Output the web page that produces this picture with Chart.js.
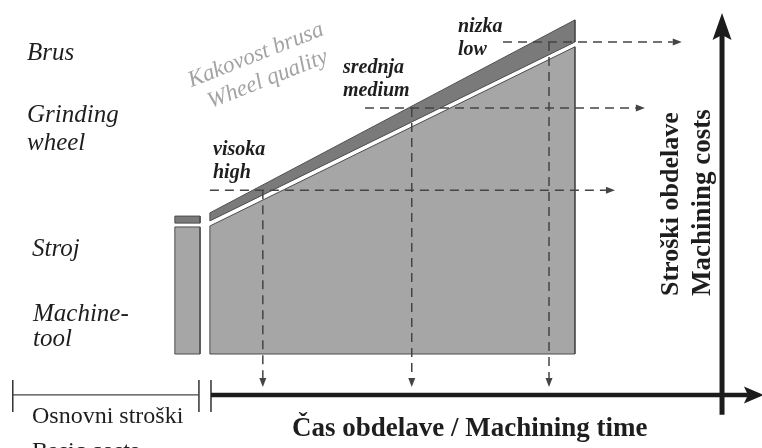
<!DOCTYPE html>
<html>
<head>
<meta charset="utf-8">
<title>Stroški obdelave / Machining costs</title>
<script src="https://cdn.jsdelivr.net/npm/chart.js@4.4.1/dist/chart.umd.min.js"></script>
<style>
  html, body { margin: 0; padding: 0; background: #fff; }
</style>
</head>
<body>
<canvas id="costChart" width="762" height="448"></canvas>
<script>
// x = machining time (0 = start), y = cost (0 = bottom of the blocks), arbitrary units
const blockTime = [0, 10];
const machineCost = [4.0, 9.6];
const wheelCostBottom = [4.16, 9.75];
const wheelCostTop = [4.41, 10.44];

const basicTime = [-0.96, -0.27];
const basicMachineCost = 3.97;
const basicWheelCost = [4.09, 4.31];

// wheel quality: high / medium / low
const qualityTime = [1.45, 5.53, 9.29];
const qualityCost = [5.12, 7.69, 9.75];
const readoutFrom = [0, 4.25, 8.03];
const readoutTo = [10.85, 11.67, 12.68];
const timeReadout = -0.75;

const timeAxis = [0.03, 14.74];
const timeAxisCost = -1.28;
const costAxis = [-1.9, 9.97];
const costAxisTime = 14.03;
const basicSpan = [-5.4, -0.3];
const tickCost = [-0.81, -1.81];

const GRAY = "#a6a6a6";
const DARK = "#7a7a7a";
const EDGE = "#4d4d4d";
const INK = "#1c1c1c";

// chart.js paints lower "order" on top
function shape(points, color) {
  return {
    data: points.map(p => ({ x: p[0], y: p[1] })),
    showLine: true, fill: "shape", clip: false, order: 3,
    backgroundColor: color, borderColor: EDGE, borderWidth: 1
  };
}

function segment(a, b, opts) {
  return Object.assign({
    data: [{ x: a[0], y: a[1] }, { x: b[0], y: b[1] }],
    showLine: true, fill: false, clip: false, order: 1,
    borderColor: INK, borderWidth: 1.5
  }, opts);
}

const smallHead = { tip: 9, back: 0, half: 3.5 };
const datasets = [];

// machine-tool block and grinding wheel band
datasets.push(shape([
  [blockTime[0], 0], [blockTime[0], machineCost[0]],
  [blockTime[1], machineCost[1]], [blockTime[1], 0], [blockTime[0], 0]
], GRAY));
datasets.push(shape([
  [blockTime[0], wheelCostBottom[0]], [blockTime[0], wheelCostTop[0]],
  [blockTime[1], wheelCostTop[1]], [blockTime[1], wheelCostBottom[1]],
  [blockTime[0], wheelCostBottom[0]]
], DARK));

// basic costs bar
datasets.push(shape([
  [basicTime[0], 0], [basicTime[0], basicMachineCost],
  [basicTime[1], basicMachineCost], [basicTime[1], 0], [basicTime[0], 0]
], GRAY));
datasets.push(shape([
  [basicTime[0], basicWheelCost[0]], [basicTime[0], basicWheelCost[1]],
  [basicTime[1], basicWheelCost[1]], [basicTime[1], basicWheelCost[0]],
  [basicTime[0], basicWheelCost[0]]
], DARK));

// dashed read-outs for each wheel quality
qualityTime.forEach((t, i) => {
  const dash = { borderColor: "#444", borderWidth: 1.5, borderDash: [9, 6], arrow: smallHead, order: 2 };
  datasets.push(segment([readoutFrom[i], qualityCost[i]], [readoutTo[i], qualityCost[i]], dash));
  datasets.push(segment([t, qualityCost[i]], [t, timeReadout], dash));
});

// axes, bracket and ticks
datasets.push(segment([timeAxis[0], timeAxisCost], [timeAxis[1], timeAxisCost],
  { borderWidth: 4.5, arrow: { tip: 16, back: 4, half: 8.5 } }));
datasets.push(segment([costAxisTime, costAxis[0]], [costAxisTime, costAxis[1]],
  { borderWidth: 5, arrow: { tip: 22, back: 5, half: 9.5 } }));
datasets.push(segment([basicSpan[0], timeAxisCost], [basicSpan[1], timeAxisCost],
  { borderWidth: 1.3, borderColor: "#444" }));
[basicSpan[0], basicSpan[1], timeAxis[0]].forEach(t => {
  datasets.push(segment([t, tickCost[0]], [t, tickCost[1]], { borderWidth: 1.5, borderColor: "#333" }));
});

const arrowHeads = {
  id: "arrowHeads",
  afterDatasetsDraw(chart) {
    const ctx = chart.ctx;
    chart.data.datasets.forEach((ds, i) => {
      if (!ds.arrow) return;
      const pts = chart.getDatasetMeta(i).data;
      const a = pts[pts.length - 2], b = pts[pts.length - 1];
      const ang = Math.atan2(b.y - a.y, b.x - a.x);
      const { tip, back, half } = ds.arrow;
      ctx.save();
      ctx.translate(b.x, b.y);
      ctx.rotate(ang);
      ctx.beginPath();
      ctx.moveTo(tip, 0);
      ctx.lineTo(-back, -half);
      ctx.lineTo(0, 0);
      ctx.lineTo(-back, half);
      ctx.closePath();
      ctx.fillStyle = ds.borderColor;
      ctx.fill();
      ctx.restore();
    });
  }
};

const SERIF = '"Liberation Serif", "Times New Roman", serif';
const labels = [
  { text: "Brus", x: 27, y: 60, font: "italic 25px" },
  { text: "Grinding", x: 27, y: 122, font: "italic 25px" },
  { text: "wheel", x: 27, y: 150, font: "italic 25px" },
  { text: "Stroj", x: 32, y: 256, font: "italic 25px" },
  { text: "Machine-", x: 33, y: 321, font: "italic 25px" },
  { text: "tool", x: 33, y: 346, font: "italic 25px" },
  { text: "Kakovost brusa", x: 258, y: 61, font: "italic 23px", color: "#a3a3a3", rot: -21.5, align: "center" },
  { text: "Wheel quality", x: 270, y: 85, font: "italic 23px", color: "#a3a3a3", rot: -21.5, align: "center" },
  { text: "visoka", x: 213, y: 155, font: "bold italic 20px" },
  { text: "high", x: 213, y: 178, font: "bold italic 20px" },
  { text: "srednja", x: 343, y: 73, font: "bold italic 20px" },
  { text: "medium", x: 343, y: 96, font: "bold italic 20px" },
  { text: "nizka", x: 458, y: 32, font: "bold italic 20px" },
  { text: "low", x: 458, y: 55, font: "bold italic 20px" },
  { text: "Osnovni stroški", x: 32, y: 423, font: "24px" },
  { text: "Basic costs", x: 32, y: 458, font: "24px" },
  { text: "Čas obdelave / Machining time", x: 292, y: 436, font: "bold 27px" },
  { text: "Stroški obdelave", x: 678, y: 296, font: "bold 26px", rot: -90 },
  { text: "Machining costs", x: 710, y: 296, font: "bold 27px", rot: -90 }
];

const textLabels = {
  id: "textLabels",
  afterDraw(chart) {
    const ctx = chart.ctx;
    labels.forEach(l => {
      ctx.save();
      ctx.translate(l.x, l.y);
      if (l.rot) ctx.rotate(l.rot * Math.PI / 180);
      ctx.font = l.font + " " + SERIF;
      ctx.fillStyle = l.color || "#1e1e1e";
      ctx.textAlign = l.align || "left";
      ctx.textBaseline = "alphabetic";
      ctx.fillText(l.text, 0, 0);
      ctx.restore();
    });
  }
};

new Chart(document.getElementById("costChart"), {
  type: "scatter",
  data: { datasets },
  options: {
    responsive: false,
    animation: false,
    events: [],
    layout: { padding: 0 },
    elements: { point: { radius: 0 }, line: { tension: 0 } },
    plugins: { legend: { display: false }, tooltip: { enabled: false } },
    scales: {
      x: { type: "linear", min: -5.75, max: 15.125, display: false },
      y: { type: "linear", min: -2.9375, max: 11.0625, display: false }
    }
  },
  plugins: [arrowHeads, textLabels]
});
</script>
</body>
</html>
